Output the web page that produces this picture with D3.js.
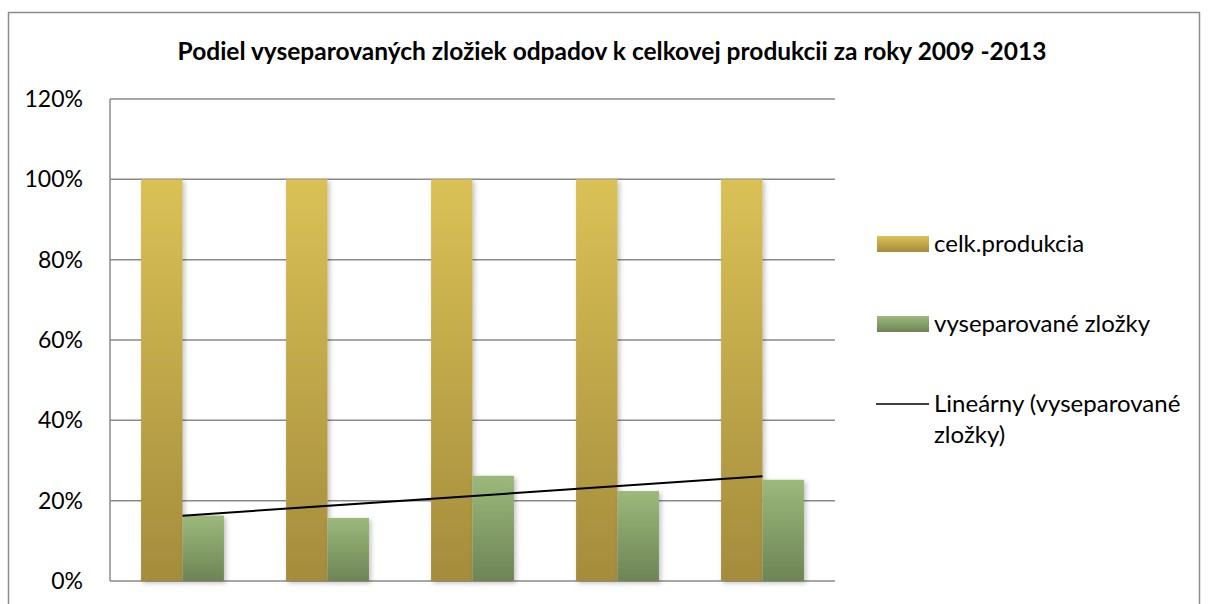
<!DOCTYPE html>
<html><head><meta charset="utf-8">
<script src="https://cdn.jsdelivr.net/npm/d3@7"></script>
<style>body{margin:0;background:#fff}svg{display:block}text{font-family:Lato,"Open Sans",sans-serif}</style>
</head><body>
<svg id="c" width="1208" height="604"></svg>
<script>
const categories = ["2009","2010","2011","2012","2013"];
const celkProdukcia = [100,100,100,100,100];
const vyseparovane = [16.3,15.7,26.2,22.4,25.2];
const yTicks = [0,20,40,60,80,100,120];
const seriesNames = ["celk.produkcia","vyseparované zložky"];
const title = "Podiel vyseparovaných zložiek odpadov k celkovej produkcii za roky 2009 -2013";

const svg = d3.select("#c");
const defs = svg.append("defs");
function grad(id, top, bot){
  const g = defs.append("linearGradient").attr("id",id).attr("x1",0).attr("y1",0).attr("x2",0).attr("y2",1);
  g.append("stop").attr("offset","0%").attr("stop-color",top);
  g.append("stop").attr("offset","100%").attr("stop-color",bot);
}
grad("gGold","#dac156","#a48c3d");
grad("gGreen","#9cb97b","#6d8455");
const f = defs.append("filter").attr("id","sh").attr("x","-20%").attr("y","-5%").attr("width","150%").attr("height","115%");
f.append("feDropShadow").attr("dx",2).attr("dy",2).attr("stdDeviation",2.5).attr("flood-color","#000").attr("flood-opacity",0.25);

// outer border
svg.append("rect").attr("x",8.5).attr("y",12.5).attr("width",1191).attr("height",620)
  .attr("fill","none").attr("stroke","#8c8c8c").attr("stroke-width",1.5);

const m = {left:110, right:835, top:99, bottom:581};
const x0 = d3.scaleBand().domain(categories).range([m.left,m.right]).paddingInner(0).paddingOuter(0);
const y = d3.scaleLinear().domain([0,120]).range([m.bottom,m.top]);
const bw = x0.bandwidth()/3.5;

// title
svg.append("text").attr("x",612).attr("y",60).attr("text-anchor","middle")
  .attr("font-weight","bold").attr("font-size",24.5).attr("fill","#000").text(title);

// gridlines
svg.append("g").selectAll("line").data(yTicks).join("line")
  .attr("x1",m.left).attr("x2",m.right).attr("y1",d=>y(d)).attr("y2",d=>y(d))
  .attr("stroke","#8a8a8a").attr("stroke-width",1.5);
// y axis line
svg.append("line").attr("x1",m.left).attr("x2",m.left).attr("y1",m.top).attr("y2",m.bottom)
  .attr("stroke","#8a8a8a").attr("stroke-width",1.5);

const yAxis = d3.axisLeft(y).tickValues(yTicks).tickFormat(d=>d+"%").tickSize(0).tickPadding(27);
const ya = svg.append("g").attr("transform",`translate(${m.left},0)`).call(yAxis);
ya.select(".domain").remove();
ya.selectAll("text").attr("font-size",23).attr("fill","#000").attr("font-family","Lato,'Open Sans',sans-serif");

// bars
const cx = c => x0(c)+x0.bandwidth()/2;
svg.append("g").selectAll("rect").data(categories).join("rect")
  .attr("x",c=>cx(c)-bw).attr("width",bw)
  .attr("y",(c,i)=>y(celkProdukcia[i])).attr("height",(c,i)=>y(0)-y(celkProdukcia[i]))
  .attr("fill","url(#gGold)").attr("filter","url(#sh)");
svg.append("g").selectAll("rect").data(categories).join("rect")
  .attr("x",c=>cx(c)).attr("width",bw)
  .attr("y",(c,i)=>y(vyseparovane[i])).attr("height",(c,i)=>y(0)-y(vyseparovane[i]))
  .attr("fill","url(#gGreen)").attr("filter","url(#sh)");

// linear trend
const n = vyseparovane.length;
const xs = d3.range(1,n+1);
const mx = d3.mean(xs), my = d3.mean(vyseparovane);
const slope = d3.sum(xs,(xi,i)=>(xi-mx)*(vyseparovane[i]-my))/d3.sum(xs,xi=>(xi-mx)*(xi-mx));
const icpt = my - slope*mx;
const trend = categories.map((c,i)=>[cx(c), y(icpt+slope*(i+1))]);
svg.append("path").attr("d",d3.line()([trend[0],trend[n-1]]))
  .attr("stroke","#000").attr("stroke-width",2).attr("fill","none");

// legend
const lg = svg.append("g");
const lx = 877, tx = 934, fs = 24;
lg.append("rect").attr("x",lx).attr("y",236).attr("width",52).attr("height",16).attr("fill","url(#gGold)");
lg.append("text").attr("x",tx).attr("y",252).attr("font-size",fs).text(seriesNames[0]);
lg.append("rect").attr("x",lx).attr("y",316).attr("width",52).attr("height",16).attr("fill","url(#gGreen)");
lg.append("text").attr("x",tx).attr("y",332).attr("font-size",fs).text(seriesNames[1]);
lg.append("line").attr("x1",lx-1).attr("x2",lx+52).attr("y1",404).attr("y2",404).attr("stroke","#000").attr("stroke-width",1.5);
lg.append("text").attr("x",tx).attr("y",412).attr("font-size",fs).text("Lineárny (vyseparované");
lg.append("text").attr("x",tx).attr("y",443).attr("font-size",fs).text("zložky)");
</script>
</body></html>
